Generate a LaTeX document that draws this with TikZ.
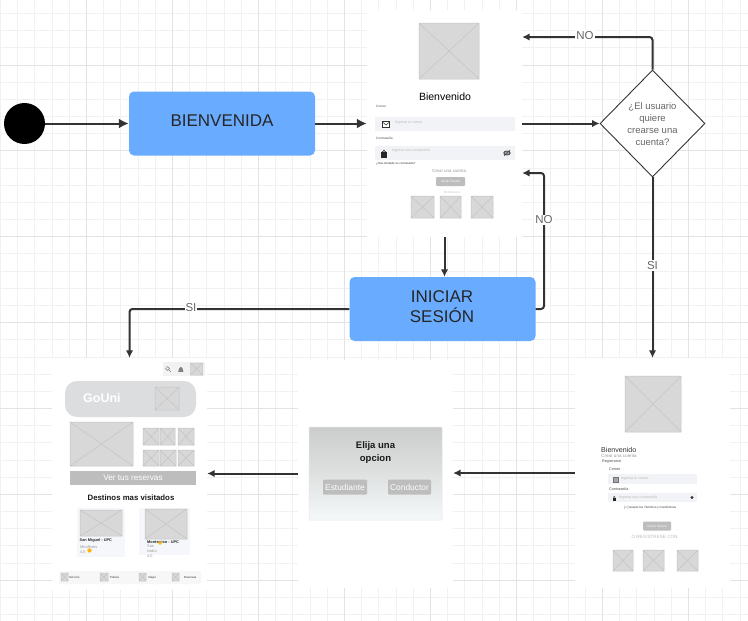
\documentclass[tikz,border=0pt]{standalone}
\usepackage{fontspec}
\setmainfont{Liberation Sans}
\newfontfamily\symf{DejaVu Sans}
\usetikzlibrary{arrows.meta,shapes.geometric,calc}
\definecolor{gridminor}{HTML}{F1F1F1}
\definecolor{gridmajor}{HTML}{E3E3E3}
\definecolor{bluebox}{HTML}{68ABFF}
\definecolor{conn}{HTML}{333333}
\definecolor{lbl}{HTML}{666666}
\definecolor{phfill}{HTML}{D8D8D8}
\definecolor{phline}{HTML}{C4C4C4}
\definecolor{fieldbg}{HTML}{F2F3F7}
\definecolor{btn}{HTML}{BDBDBD}
\definecolor{banner}{HTML}{DCDDDF}
\definecolor{cardbg}{HTML}{F6F7FA}
\definecolor{hint}{HTML}{BBBBBB}
\definecolor{subt}{HTML}{999999}
\definecolor{gradtop}{HTML}{CBCCCC}
\definecolor{gradmid}{HTML}{DFE1E1}
\definecolor{gradbot}{HTML}{F4F8F9}
\newcommand{\fsz}[1]{\fontsize{#1}{#1}\selectfont}
\newcommand{\phold}[4]{\draw[phline,fill=phfill,line width=.5pt] (#1,#2) rectangle (#3,#4) (#1,#2) -- (#3,#4) (#1,#4) -- (#3,#2);}
\tikzset{
  screen/.style={fill=white,draw=none,inner sep=0pt},
  flow/.style={draw=conn,line width=2pt,-{Latex[length=7.5pt,width=7.5pt]}},
  flowbig/.style={draw=conn,line width=2pt,-{Latex[length=10pt,width=10pt]}},
  bluerect/.style={fill=bluebox,draw=none,rounded corners=5pt,inner sep=0pt,minimum width=186pt,minimum height=64pt},
  boxtext/.style={inner sep=0pt,align=center,text=black!85,font=\fontsize{17}{20.5}\selectfont},
  lab/.style={fill=white,inner sep=1pt,text=lbl,font=\fsz{11.5}},
  field/.style={fill=fieldbg,draw=none},
  txt/.style={inner sep=0pt,anchor=west},
  ctr/.style={inner sep=0pt,anchor=center},
  gbtn/.style={fill=btn,rounded corners=1pt,inner sep=0pt,text=white,anchor=center}
}
\begin{document}
\begin{tikzpicture}[x=1pt,y=-1pt]
\useasboundingbox (0,0) rectangle (748,621);
\fill[white] (0,0) rectangle (748,621);
% grid
\foreach \k in {0,...,43}{\draw[gridminor,line width=.8pt] ({.4+17.2*\k},0) -- ({.4+17.2*\k},621);}
\foreach \k in {0,...,36}{\draw[gridminor,line width=.8pt] (0,{13.5+17.17*\k}) -- (748,{13.5+17.17*\k});}
\foreach \k in {0,...,8}{\draw[gridmajor,line width=.8pt] ({86.4+86*\k},0) -- ({86.4+86*\k},621);}
\foreach \k in {0,...,6}{\draw[gridmajor,line width=.8pt] (0,{65+85.85*\k}) -- (748,{65+85.85*\k});}

% screens
\node[screen,minimum width=155pt,minimum height=227pt] (login) at (444.5,123.5) {};
\node[screen,minimum width=155pt,minimum height=232pt] (home) at (129.5,474) {};
\node[screen,minimum width=155pt,minimum height=228pt] (choice) at (375.5,473.5) {};
\node[screen,minimum width=155pt,minimum height=230pt] (reg) at (652.5,473) {};

% flow nodes
\node[circle,fill=black,draw=none,minimum size=41pt,inner sep=0pt] (start) at (24.5,123.5) {};
\node[bluerect] (bien) at (222,123.5) {};
\node[boxtext] (bient) at (222,121) {BIENVENIDA};
\node[bluerect] (ini) at (442.5,309) {};
\node[boxtext] (init) at (442,306.5) {INICIAR\\SESIÓN};
\node[diamond,draw=conn,fill=white,line width=.9pt,minimum width=105pt,minimum height=107pt,inner sep=0pt] (dia) at (652.5,123.5) {};
\node[ctr,align=center,text=lbl,font=\fontsize{9.5}{11.8}\selectfont] (diat) at (652.5,124) {¿El usuario\\quiere\\crearse una\\cuenta?};

% login screen
\phold{419}{23}{479}{79}
\node[ctr,font=\fsz{10.5}] (lt1) at (445,97) {Bienvenido};
\node[txt,font=\fsz{3.2},text=black!70] (lt2) at (376,106.5) {Correo};
\fill[field] (375,117) rectangle (515,131);
\draw[black!80,line width=.8pt,fill=white] (382.5,121.5) rectangle (389.5,127);
\draw[black!80,line width=.5pt] (382.5,122) -- (386,125) -- (389.5,122);
\node[txt,font=\fsz{3.6},text=hint] (lt3) at (395,122.5) {Ingresa tu correo};
\node[txt,font=\fsz{3.2},text=black!70] (lt4) at (376,138) {Contraseña};
\fill[field] (375,146) rectangle (515,160);
\fill[black!85] (381,152) rectangle (387,157.5);
\draw[black!85,line width=.7pt] (382.3,152) arc (180:360:1.7);
\node[txt,font=\fsz{3.6},text=hint] (lt5) at (392,151) {Ingresa una contraseña};
\draw[black!75,line width=.8pt,fill=black!35] (507,153) ellipse (3.2 and 2);
\draw[black!75,line width=.6pt] (504,156) -- (510,150);
\node[txt,font=\fsz{2.9},text=black!80] (lt6) at (376,163.5) {¿Has olvidado su contraseña?};
\node[ctr,font=\fsz{4.4},text=subt] (lt7) at (449,171) {Crear una cuenta};
\node[gbtn,font=\fsz{3.2},minimum width=29pt,minimum height=9pt] (lt8) at (450.5,181.5) {Iniciar Sesion};
\node[ctr,font=\fsz{3},text=hint] (lt9) at (452,192.5) {O inicia con};
\phold{411}{196}{434}{218}
\phold{440}{196}{461}{218}
\phold{471}{196}{493}{218}

% choice screen
\draw[black!10,line width=.5pt,rounded corners=.8pt,top color=gradtop,bottom color=gradbot,middle color=gradmid] (309,427) rectangle (442,520);
\node[ctr,align=center,font=\bfseries\fontsize{9.5}{13}\selectfont,text=black!90] (ctitle) at (375.5,453) {Elija una\\opcion};
\node[gbtn,font=\fsz{8.4},minimum width=44pt,minimum height=15pt] (cb1) at (345,487) {Estudiante};
\node[gbtn,font=\fsz{8.4},minimum width=43pt,minimum height=15pt] (cb2) at (409.5,487) {Conductor};

% register screen
\phold{625}{376}{681}{432}
\node[txt,font=\fsz{7.1},text=black!80] (rt1) at (601,450) {Bienvenido};
\node[txt,font=\fsz{4.6},text=subt] (rt2) at (601,456) {Crear una cuenta};
\node[txt,font=\fsz{3.7},text=black!70] (rt3) at (602,462) {Registrarse};
\node[txt,font=\fsz{3.7},text=black!70] (rt4) at (609,469) {Correo};
\fill[field] (608,474) rectangle (697,484);
\draw[black!55,fill=black!35,line width=.5pt] (613.5,477) rectangle (618.5,482);
\node[txt,font=\fsz{3.6},text=hint] (rt5) at (621,479) {Ingresa tu correo};
\node[txt,font=\fsz{3.7},text=black!70] (rt6) at (609,489) {Contraseña};
\fill[field] (608,493) rectangle (697,502);
\fill[black!85] (612.5,497.5) rectangle (616,501);
\draw[black!85,line width=.5pt] (613.2,497.5) arc (180:360:1.05);
\node[txt,font=\fsz{3.6},text=hint] (rt7) at (619,497.5) {Ingresa una contraseña};
\fill[black!80] (692,497.5) circle (1.7);
\node[txt,font=\fsz{3},text=black!80] (rt8) at (624,507.5) {[{\symf ✓}] Acepto los Términos y Condiciones};
\node[gbtn,font=\fsz{3.2},minimum width=28pt,minimum height=9pt] (rt9) at (657,526) {Iniciar Sesion};
\node[ctr,font=\fsz{4.6},text=hint] (rt10) at (654.5,537) {O REGÍSTRESE CON};
\phold{613}{550}{633}{571}
\phold{643}{550}{664}{571}
\phold{677}{550}{698}{571}

% home screen
\fill[black!5] (163,362) rectangle (205,376);
\draw[black!50,line width=.5pt] (167.5,368.5) circle (1.9);
\draw[black!50,line width=.5pt] (168.9,369.9) -- (171,372);
\fill[black!50] (178.2,371.8) -- (179,368.5) arc (180:360:1.8) -- (183.4,371.8) -- cycle;
\phold{190.5}{363}{202.5}{375}
\fill[banner,rounded corners=12pt] (65,381) rectangle (196,417);
\node[txt,font=\bfseries\fsz{12.5},text=white] (ht1) at (83,398.5) {GoUni};
\phold{155}{387}{179}{410}
\phold{70}{422}{133}{466}
\phold{143}{428}{159}{445}
\phold{160}{428}{175}{445}
\phold{178}{428}{194}{445}
\phold{143}{450}{159}{466}
\phold{160}{450}{176}{466}
\phold{178}{450}{194}{466}
\node[fill=btn,inner sep=0pt,minimum width=126pt,minimum height=14pt,text=white,font=\fsz{8.2}] (hbtn) at (133,478) {Ver tus reservas};
\node[ctr,font=\bfseries\fsz{7.8},text=black!90] (ht2) at (131,497.5) {Destinos mas visitados};
\fill[cardbg] (77,508) rectangle (125,557);
\phold{80}{510}{122}{536}
\node[txt,font=\bfseries\fsz{3.9},text=black!85] (ht3) at (79.5,540.5) {San Miguel - UPC};
\node[txt,font=\fsz{3.9},text=subt] (ht4) at (80,547) {Miraflores};
\node[txt,font=\fsz{3.9},text=subt] (ht5) at (80,552) {4.5};
\node[star,star points=5,fill=orange!60!yellow,inner sep=0pt,minimum size=5pt] (hs1) at (89.5,550.5) {};
\fill[cardbg] (139,508) rectangle (190,555);
\phold{145}{509}{187}{539}
\node[txt,font=\bfseries\fsz{3.9},text=black!85] (ht6) at (147,542) {Monterrico - UPC};
\node[txt,font=\fsz{3.9},text=subt] (ht7) at (147,546.5) {San};
\node[txt,font=\fsz{3.9},text=subt] (ht8) at (147,551) {Isidro};
\node[txt,font=\fsz{3.9},text=subt] (ht9) at (147,556) {4.5};
\node[star,star points=5,fill=orange!60!yellow,inner sep=0pt,minimum size=4pt] (hs2) at (160,543) {};
\fill[black!3,rounded corners=2pt] (59,571) rectangle (201,584);
\phold{61}{573}{68}{581}
\phold{100}{573}{108}{581}
\phold{139}{573}{146}{581}
\phold{172}{573}{179}{581}
\node[txt,font=\fsz{2.9},text=black!80] (hn1) at (69,577.5) {Servicio};
\node[txt,font=\fsz{2.9},text=black!80] (hn2) at (110,577.5) {Planes};
\node[txt,font=\fsz{2.9},text=black!80] (hn3) at (148,577.5) {Viajes};
\node[txt,font=\fsz{2.9},text=black!80] (hn4) at (184,577.5) {Reservas};

% connectors
\coordinate (loginUp) at (login.east |- 0,37);
\coordinate (loginLow) at (login.east |- 0,173);
\coordinate (iniR) at (544,173);
\draw[flowbig] (start) -- (bien);
\draw[flowbig] (bien) -- (login);
\draw[flow] (login) -- (dia);
\draw[flow,rounded corners=3pt] (dia.north) |- (loginUp);
\node[lab] (lno) at (585,35.5) {NO};
\draw[flow] (dia.south) -- (dia.south |- reg.north);
\node[lab] (lsi) at (652.5,265.5) {SI};
\draw[flow] (login.south) -- (login.south |- ini.north);
\draw[flow,rounded corners=3pt] (ini.east) -- (iniR |- ini.east) -- (iniR) -- (loginLow);
\node[lab] (nolab) at (544,220) {NO};
\draw[flow,rounded corners=3pt] (ini.west) -| (home.north);
\node[lab] (silab) at (191,307.5) {SI};
\draw[flow] (reg.west) -- (reg.west -| choice.east);
\draw[flow] (choice.west) -- (choice.west -| home.east);
\end{tikzpicture}
\end{document}
